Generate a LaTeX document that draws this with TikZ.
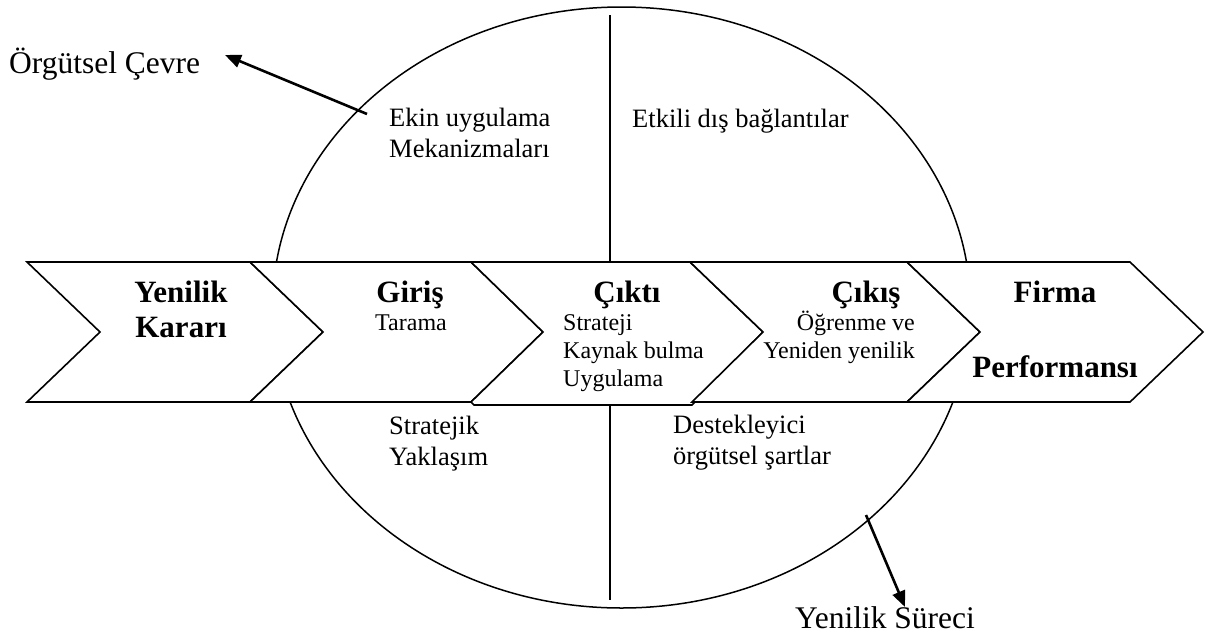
\documentclass[tikz,border=0pt]{standalone}
\usepackage{fontspec}
\setmainfont{Liberation Serif}
\usetikzlibrary{arrows.meta,shapes.geometric}

\begin{document}
\begin{tikzpicture}[x=1pt,y=-1pt,
  chevron/.style={draw=black,fill=white,line width=1.6pt,line join=miter},
  frame/.style={draw=black,line width=1.5pt},
  divider/.style={draw=black,line width=1.3pt},
  pointer/.style={draw=black,line width=2.6pt,-{Triangle[length=16pt,width=13pt]}},
  outer/.style={inner sep=0pt,anchor=base west,font=\fontsize{31.5}{36}\selectfont},
  region/.style={inner sep=0pt,anchor=base west,align=left,font=\fontsize{26.5}{30.5}\selectfont},
  head/.style={inner sep=0pt,anchor=base,align=center,font=\fontsize{31}{35}\selectfont\bfseries},
  body/.style={inner sep=0pt,font=\fontsize{24}{28}\selectfont}]
\useasboundingbox (0,0) rectangle (1210,635);

% environment ellipse and its vertical divider
\node[ellipse,frame,minimum width=698pt,minimum height=601pt,inner sep=0pt] (env) at (621.5,307.5) {};
\coordinate (divtop) at (610,15);
\coordinate (divbot) at (610,600);
\draw[divider] (divtop) -- (divbot);

% process chevrons
\draw[chevron] (27,262) -- (250,262) -- (323,332) -- (250,402) -- (27,402) -- (100,332) -- cycle;
\draw[chevron] (250,262) -- (471,262) -- (543,332) -- (471,402) -- (250,402) -- (323,332) -- cycle;
\draw[chevron] (471,262) -- (690,262) -- (763,332) -- (692,405) -- (474,405) -- (471,402) -- (543,332) -- cycle;
\draw[chevron] (690,262) -- (907,262) -- (980,332) -- (907,402) -- (692,402) -- (763,332) -- cycle;
\draw[chevron] (907,262) -- (1130,262) -- (1203,332) -- (1130,402) -- (907,402) -- (980,332) -- cycle;

% chevron texts (multi-line nodes sit on the baseline of their last line)
\node[head] (karar) at (181,337) {Yenilik\\Kararı};
\node[head] (giris) at (410,302) {Giriş};
\node[body,anchor=base] (tarama) at (411,330) {Tarama};
\node[head] (cikti) at (627,302) {Çıktı};
\node[body,anchor=base west,align=left] (ciktibody) at (563,386) {Strateji\\Kaynak bulma\\Uygulama};
\node[head] (cikis) at (866,302) {Çıkış};
\node[body,anchor=base east,align=right] (cikisbody) at (915,358) {Öğrenme ve\\Yeniden yenilik};
\node[head,font=\fontsize{31}{75}\selectfont\bfseries] (firma) at (1055,377) {Firma\\Performansı};

% quadrant texts
\node[region] (ekin) at (389,157) {Ekin uygulama\\Mekanizmaları};
\node[region] (etkili) at (632,127) {Etkili dış bağlantılar};
\node[region] (stratejik) at (389,465) {Stratejik\\Yaklaşım};
\node[region] (destek) at (673,464) {Destekleyici\\örgütsel şartlar};

% outer labels and pointers
\node[outer] (cevre) at (9,73) {Örgütsel Çevre};
\node[outer] (surec) at (795,628) {Yenilik Süreci};
\coordinate (cevretail) at (367,114);
\coordinate (cevretip) at (225,55);
\coordinate (surectail) at (866,515);
\coordinate (surectip) at (905,607);
\draw[pointer] (cevretail) -- (cevretip);
\draw[pointer] (surectail) -- (surectip);
\end{tikzpicture}
\end{document}
